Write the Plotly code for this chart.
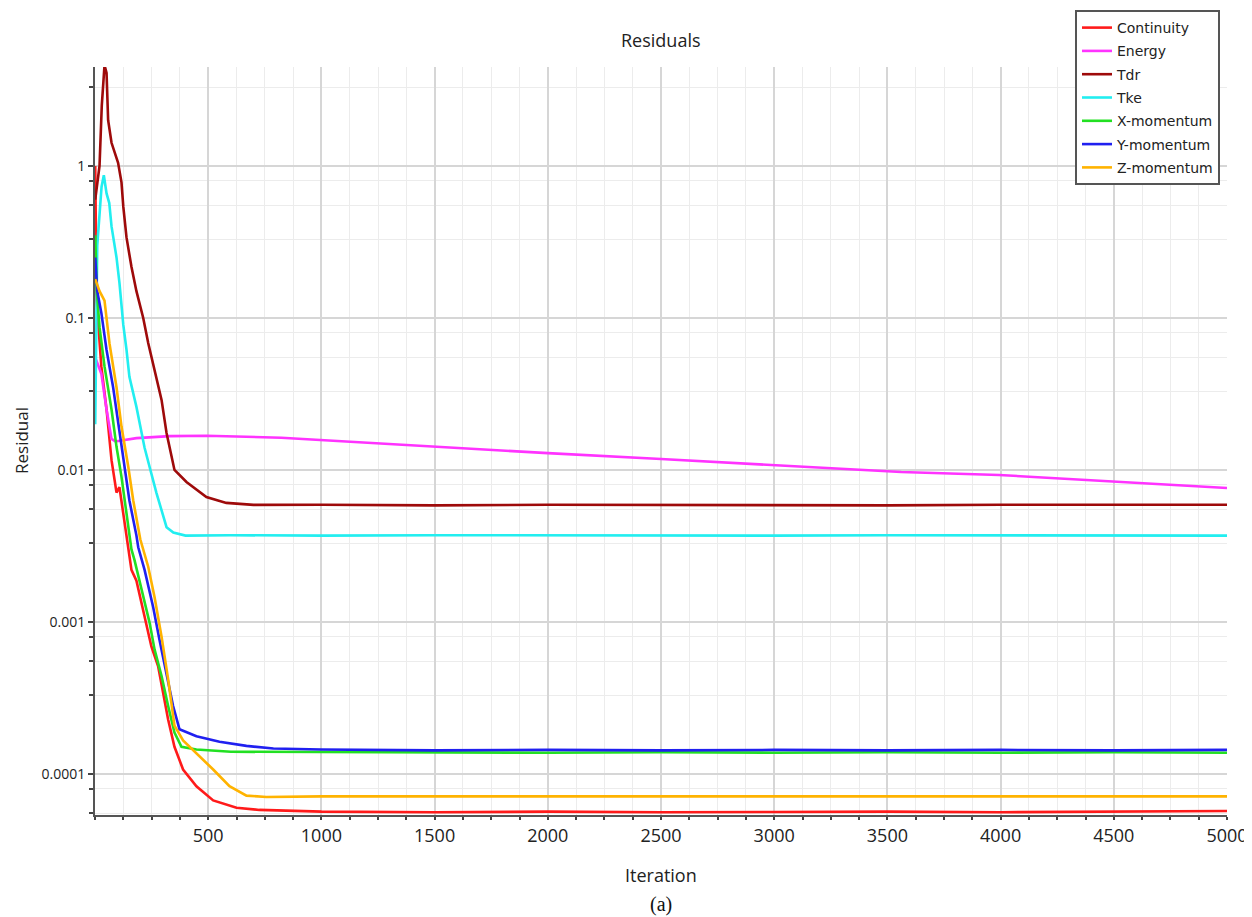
import plotly.graph_objects as go

# ---------------- data ----------------
cont_it = [1, 7, 28, 51, 73, 95, 108, 124, 147, 161, 183, 205, 227, 249, 279, 301, 323, 351, 389, 448, 522, 625, 726, 1000, 1500, 2000, 2500, 3000, 3500, 4000, 4500, 5000]
cont_val = [1.0, 0.13, 0.048, 0.025, 0.0116, 0.0071, 0.0077, 0.0052, 0.0030, 0.0022, 0.00187, 0.00133, 0.00099, 0.00069, 0.00051, 0.00035, 0.000228, 0.000151, 0.000107, 0.000083, 0.000067, 0.000060, 0.000058, 0.0000565, 0.000056, 0.0000565, 0.000056, 0.0000562, 0.0000565, 0.000056, 0.0000565, 0.000057]

energy_it = [1, 28, 51, 73, 90, 124, 183, 330, 492, 823, 1265, 2000, 2500, 3000, 3561, 3993, 4501, 5000]
energy_val = [0.055, 0.043, 0.025, 0.016, 0.0154, 0.0157, 0.0162, 0.0167, 0.0168, 0.0163, 0.0149, 0.0129, 0.0118, 0.0108, 0.0097, 0.00927, 0.00834, 0.0076]

tdr_it = [1, 20, 30, 42, 51, 58, 73, 102, 117, 125, 139, 161, 183, 213, 235, 263, 294, 316, 351, 404, 492, 580, 700, 1000, 1500, 2000, 2500, 3000, 3500, 4000, 4500, 5000]
tdr_val = [0.6, 1.0, 2.5, 4.6, 4.09, 2.0, 1.42, 1.05, 0.78, 0.54, 0.34, 0.217, 0.15, 0.10, 0.0685, 0.0455, 0.0289, 0.0175, 0.0100, 0.00834, 0.00664, 0.00607, 0.00589, 0.0059, 0.00585, 0.0059, 0.00588, 0.0059, 0.00585, 0.0059, 0.00588, 0.0059]

tke_it = [1, 10, 29, 39, 51, 63, 73, 95, 108, 125, 139, 152, 183, 219, 271, 316, 346, 400, 600, 1000, 1500, 2000, 2500, 3000, 3500, 4000, 4500, 5000]
tke_val = [0.02, 0.3, 0.73, 0.87, 0.66, 0.57, 0.4, 0.25, 0.17, 0.09, 0.062, 0.041, 0.026, 0.014, 0.0071, 0.0042, 0.00387, 0.0037, 0.00372, 0.0037, 0.00372, 0.0037, 0.00371, 0.0037, 0.00372, 0.0037, 0.00371, 0.0037]

xmom_it = [1, 8, 20, 42, 73, 95, 117, 139, 161, 174, 205, 241, 263, 294, 323, 351, 382, 448, 600, 1000, 1500, 2000, 2500, 3000, 3500, 4000, 4500, 5000]
xmom_val = [0.35, 0.15, 0.087, 0.048, 0.025, 0.0142, 0.0090, 0.0052, 0.0030, 0.00257, 0.00163, 0.00099, 0.00066, 0.00044, 0.00028, 0.000187, 0.000151, 0.000145, 0.00014, 0.000139, 0.000139, 0.000138, 0.000139, 0.000138, 0.000139, 0.000138, 0.000139, 0.000138]

ymom_it = [1, 10, 28, 51, 80, 108, 130, 152, 183, 191, 219, 257, 285, 316, 345, 373, 448, 550, 669, 788, 1000, 1500, 2000, 2500, 3000, 3500, 4000, 4500, 5000]
ymom_val = [0.25, 0.15, 0.108, 0.0616, 0.035, 0.0184, 0.0105, 0.0063, 0.0037, 0.0031, 0.0022, 0.00125, 0.00076, 0.00046, 0.00028, 0.000197, 0.000177, 0.000163, 0.000153, 0.000147, 0.000145, 0.000143, 0.000144, 0.000143, 0.000144, 0.000143, 0.000144, 0.000143, 0.000144]

zmom_it = [1, 20, 42, 64, 95, 117, 147, 169, 200, 235, 263, 294, 323, 351, 389, 461, 522, 594, 669, 757, 1000, 1500, 2000, 2500, 3000, 3500, 4000, 4500, 5000]
zmom_val = [0.18, 0.15, 0.13, 0.068, 0.035, 0.0193, 0.0105, 0.0063, 0.0035, 0.00231, 0.00146, 0.00080, 0.00042, 0.000208, 0.000166, 0.000131, 0.000107, 0.000083, 0.000072, 0.0000705, 0.0000712, 0.0000712, 0.0000712, 0.0000712, 0.0000712, 0.0000712, 0.0000712, 0.0000712, 0.0000712]

series_names = ["Continuity", "Energy", "Tdr", "Tke", "X-momentum", "Y-momentum", "Z-momentum"]
series_colors = ["#ff1a1a", "#ff33ff", "#9e0a0a", "#22eef0", "#22e022", "#2020f0", "#ffb300"]

y_tick_vals = [0.0001, 0.001, 0.01, 0.1, 1]
y_tick_text = ["0.0001", "0.001", "0.01", "0.1", "1"]
x_tick_vals = [500, 1000, 1500, 2000, 2500, 3000, 3500, 4000, 4500, 5000]

# ---------------- figure ----------------
series = [(cont_it, cont_val), (energy_it, energy_val), (tdr_it, tdr_val), (tke_it, tke_val),
          (xmom_it, xmom_val), (ymom_it, ymom_val), (zmom_it, zmom_val)]

fig = go.Figure()
for (xs, ys), name, col in zip(series, series_names, series_colors):
    fig.add_trace(go.Scatter(x=xs, y=ys, mode="lines", name=name, legendgroup=name,
                             line=dict(color=col, width=2.6)))

minor_y = [3.3]
for d in [1, 0.1, 0.01, 0.001, 0.0001]:
    minor_y += [0.8 * d, 0.55 * d, 0.33 * d]

font_main = "Open Sans, DejaVu Sans, sans-serif"

fig.update_layout(
    width=1244, height=909,
    margin=dict(l=87, r=25, t=59, b=102, autoexpand=False),
    paper_bgcolor="white", plot_bgcolor="white",
    font=dict(family=font_main, color="#222222"),
    showlegend=True,
    legend=dict(x=0.9938, xanchor="right", y=1.0762, yanchor="top",
                bgcolor="white", bordercolor="#555555", borderwidth=2,
                font=dict(family="DejaVu Sans, sans-serif", size=14, color="#222222"),
                tracegroupgap=2.1, itemwidth=30),
    xaxis=dict(range=[0, 5000], tickmode="array", tickvals=x_tick_vals,
               ticks="outside", ticklen=3, tickcolor="#444444", tickwidth=1.5,
               showline=True, linecolor="#555555", linewidth=2,
               showgrid=True, gridcolor="#d6d6d6", gridwidth=1.5,
               tickfont=dict(size=18, color="#222222"),
               minor=dict(tick0=0, dtick=125, ticks="outside", ticklen=3, tickcolor="#444444",
                          showgrid=True, gridcolor="#ececec", gridwidth=1),
               zeroline=False),
    yaxis=dict(type="log", range=[-4.27, 0.651], tickmode="array",
               tickvals=y_tick_vals, ticktext=y_tick_text,
               ticks="outside", ticklen=5, tickcolor="#444444", tickwidth=1.5,
               showline=True, linecolor="#555555", linewidth=2,
               showgrid=True, gridcolor="#d6d6d6", gridwidth=1.5,
               tickfont=dict(size=14, color="#222222"),
               minor=dict(tickmode="array", tickvals=minor_y, ticks="outside", ticklen=4,
                          tickcolor="#444444", showgrid=True, gridcolor="#ececec", gridwidth=1),
               zeroline=False),
    annotations=[
        dict(text="Residuals", x=0.5, xref="paper", y=1, yref="paper", yanchor="middle", yshift=27,
             showarrow=False, font=dict(size=18, color="#222222")),
        dict(text="Iteration", x=0.5, xref="paper", y=0, yref="paper", yanchor="middle", yshift=-60,
             showarrow=False, font=dict(size=18, color="#222222")),
        dict(text="Residual", x=0, xref="paper", y=0.5, yref="paper", xanchor="center", xshift=-74,
             textangle=-90, showarrow=False, font=dict(size=17, color="#222222")),
        dict(text="(a)", x=0.5, xref="paper", y=0, yref="paper", yanchor="middle", yshift=-89,
             showarrow=False, font=dict(family="Liberation Serif, Times New Roman, serif", size=20, color="#111111")),
    ],
)

fig.write_html("out.html")
